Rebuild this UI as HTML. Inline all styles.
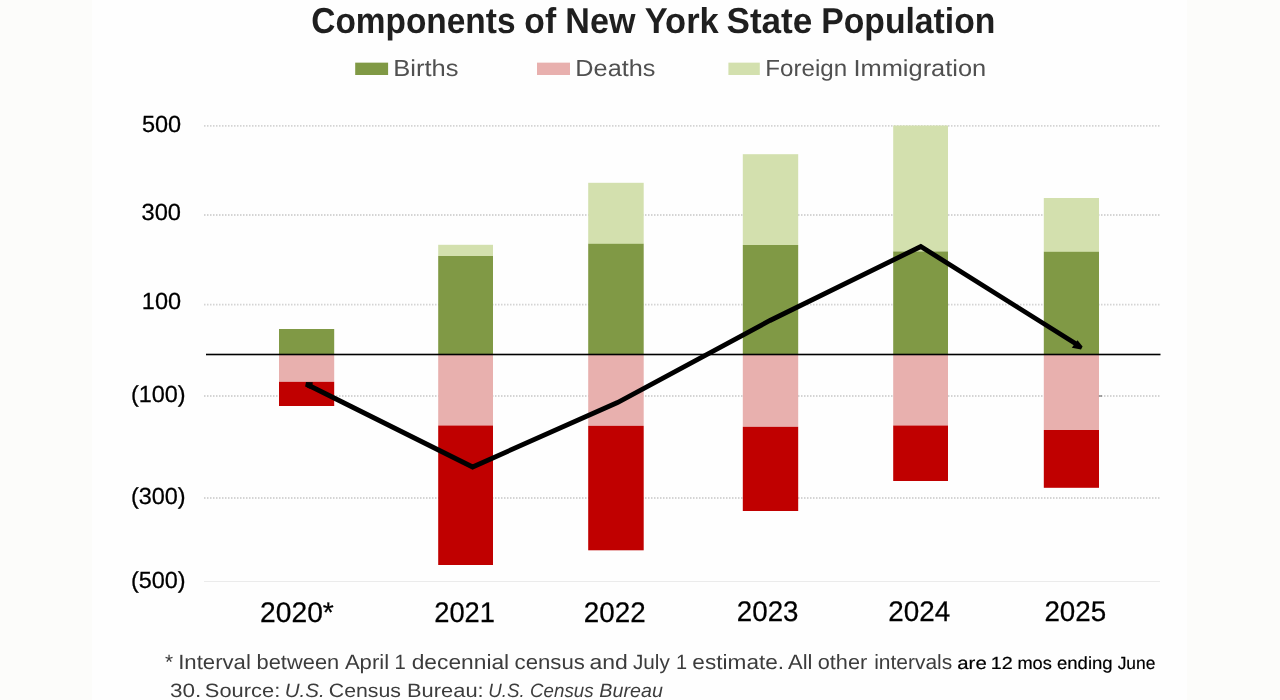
<!DOCTYPE html>
<html lang="en">
<head>
<meta charset="utf-8">
<title>Components of New York State Population</title>
<style>
  html, body { margin: 0; padding: 0; background: #fefefe; }
  body { width: 1280px; height: 700px; overflow: hidden; }
  svg { display: block; will-change: transform; }
  text { font-family: "Liberation Sans", sans-serif; text-rendering: geometricPrecision; }
</style>
</head>
<body>
<svg width="1280" height="700" viewBox="0 0 1280 700">
  <!-- background -->
  <rect x="0" y="0" width="1280" height="700" fill="#fefefe"/>
  <rect x="0" y="0" width="92" height="700" fill="#fcfcfa"/>
  <rect x="1187" y="0" width="93" height="700" fill="#fcfcfa"/>

  <!-- title -->

  <!-- legend -->
  <rect x="355.2" y="62.65" width="32.9" height="12.35" fill="#809945"/>
  <rect x="537" y="62.65" width="33" height="12.35" fill="#e8b0ae"/>
  <rect x="728.4" y="62.65" width="31.4" height="12.35" fill="#d3e0ae"/>

  <!-- gridlines -->
  <g stroke="#d4d4d4" stroke-width="1.8" stroke-dasharray="1.5 1.5" fill="none">
    <line x1="204" y1="125.9" x2="1160" y2="125.9"/>
    <line x1="204" y1="215" x2="1160" y2="215"/>
    <line x1="204" y1="304.7" x2="1160" y2="304.7"/>
    <line x1="204" y1="396" x2="1160" y2="396"/>
    <line x1="204" y1="498" x2="1160" y2="498"/>
  </g>
  <line x1="204" y1="581.5" x2="1160" y2="581.5" stroke="#ebebeb" stroke-width="1.2"/>

  <!-- bars -->
  <g id="bars">
    <!-- 2020 -->
    <rect x="279" y="329" width="55.2" height="25.5" fill="#809945"/>
    <rect x="279" y="354" width="55.2" height="27.8" fill="#e8b0ae"/>
    <rect x="279" y="381.8" width="55.2" height="24.2" fill="#c00000"/>
    <!-- 2021 -->
    <rect x="438.2" y="244.8" width="54.8" height="11.4" fill="#d3e0ae"/>
    <rect x="438.2" y="256" width="54.8" height="98.5" fill="#809945"/>
    <rect x="438.2" y="354" width="54.8" height="71.5" fill="#e8b0ae"/>
    <rect x="438.2" y="425.5" width="54.8" height="139.5" fill="#c00000"/>
    <!-- 2022 -->
    <rect x="588.2" y="182.8" width="55.5" height="61.2" fill="#d3e0ae"/>
    <rect x="588.2" y="243.8" width="55.5" height="110.5" fill="#809945"/>
    <rect x="588.2" y="354" width="55.5" height="71.8" fill="#e8b0ae"/>
    <rect x="588.2" y="425.8" width="55.5" height="124.5" fill="#c00000"/>
    <!-- 2023 -->
    <rect x="742.8" y="154.2" width="55.4" height="91" fill="#d3e0ae"/>
    <rect x="742.8" y="245" width="55.4" height="109.5" fill="#809945"/>
    <rect x="742.8" y="354" width="55.4" height="72.8" fill="#e8b0ae"/>
    <rect x="742.8" y="426.8" width="55.4" height="84.2" fill="#c00000"/>
    <!-- 2024 -->
    <rect x="893.2" y="125.5" width="54.8" height="126.2" fill="#d3e0ae"/>
    <rect x="893.2" y="251.5" width="54.8" height="103" fill="#809945"/>
    <rect x="893.2" y="354" width="54.8" height="71.5" fill="#e8b0ae"/>
    <rect x="893.2" y="425.5" width="54.8" height="55.5" fill="#c00000"/>
    <!-- 2025 -->
    <rect x="1043.8" y="198" width="55.2" height="54" fill="#d3e0ae"/>
    <rect x="1043.8" y="251.8" width="55.2" height="102.7" fill="#809945"/>
    <rect x="1043.8" y="354" width="55.2" height="76" fill="#e8b0ae"/>
    <rect x="1043.8" y="430" width="55.2" height="57.8" fill="#c00000"/>
  </g>

  <!-- zero line -->
  <rect x="206" y="353.7" width="954.5" height="1.6" fill="#000"/>
  <rect x="1098.8" y="395.2" width="3.2" height="1.6" fill="#777" opacity="0.8"/>

  <!-- net line -->
  <polyline points="308,385 472.6,467 617.5,402.5 770,320.5 920.8,246.5 1077,344.5" fill="none" stroke="#000" stroke-width="4.8" stroke-linejoin="miter"/>
  <polygon points="306,382 312.8,382.3 312.4,385.2 309.6,388.8 305.1,386.4" fill="#000"/>
  <polygon points="1077.5,340.2 1082.6,346.6 1081,349.6 1071.8,347.8" fill="#000"/>
  <!-- text words -->
  <text font-size="36" fill="#1f1f1f" font-weight="bold" y="32.8">
    <tspan x="311.27" textLength="204.21" lengthAdjust="spacingAndGlyphs">Components</tspan> 
    <tspan x="524.36" textLength="31.75" lengthAdjust="spacingAndGlyphs">of</tspan> 
    <tspan x="565.34" textLength="70.08" lengthAdjust="spacingAndGlyphs">New</tspan> 
    <tspan x="644.66" textLength="74.07" lengthAdjust="spacingAndGlyphs">York</tspan> 
    <tspan x="726.47" textLength="85.85" lengthAdjust="spacingAndGlyphs">State</tspan> 
    <tspan x="821.20" textLength="174.24" lengthAdjust="spacingAndGlyphs">Population</tspan>
  </text>
  <text font-size="23.2" fill="#505050"  y="76.0">
    <tspan x="393.38" textLength="65.16" lengthAdjust="spacingAndGlyphs">Births</tspan> 
    <tspan x="575.38" textLength="79.98" lengthAdjust="spacingAndGlyphs">Deaths</tspan> 
    <tspan x="765.32" textLength="81.88" lengthAdjust="spacingAndGlyphs">Foreign</tspan> 
    <tspan x="853.48" textLength="132.71" lengthAdjust="spacingAndGlyphs">Immigration</tspan>
  </text>
  <text font-size="20.6" fill="#3c3c3c"  y="669.0">
    <tspan x="165.05" textLength="8.08" lengthAdjust="spacingAndGlyphs">*</tspan> 
    <tspan x="178.19" textLength="72.70" lengthAdjust="spacingAndGlyphs">Interval</tspan> 
    <tspan x="256.57" textLength="82.65" lengthAdjust="spacingAndGlyphs">between</tspan> 
    <tspan x="344.92" textLength="44.13" lengthAdjust="spacingAndGlyphs">April</tspan> 
    <tspan x="394.52" textLength="11.29" lengthAdjust="spacingAndGlyphs">1</tspan> 
    <tspan x="411.69" textLength="97.47" lengthAdjust="spacingAndGlyphs">decennial</tspan> 
    <tspan x="514.56" textLength="70.27" lengthAdjust="spacingAndGlyphs">census</tspan> 
    <tspan x="589.50" textLength="38.37" lengthAdjust="spacingAndGlyphs">and</tspan> 
    <tspan x="632.90" textLength="36.89" lengthAdjust="spacingAndGlyphs">July</tspan> 
    <tspan x="676.00" textLength="11.11" lengthAdjust="spacingAndGlyphs">1</tspan> 
    <tspan x="692.38" textLength="91.73" lengthAdjust="spacingAndGlyphs">estimate.</tspan> 
    <tspan x="788.00" textLength="24.43" lengthAdjust="spacingAndGlyphs">All</tspan> 
    <tspan x="817.76" textLength="49.46" lengthAdjust="spacingAndGlyphs">other</tspan> 
    <tspan x="874.19" textLength="78.08" lengthAdjust="spacingAndGlyphs">intervals</tspan>
  </text>
  <text font-size="17.5" fill="#000" stroke="#000" stroke-width="0.2" y="668.7">
    <tspan x="957.27" textLength="29.45" lengthAdjust="spacingAndGlyphs">are</tspan> 
    <tspan x="990.78" textLength="21.95" lengthAdjust="spacingAndGlyphs">12</tspan> 
    <tspan x="1017.42" textLength="34.43" lengthAdjust="spacingAndGlyphs">mos</tspan> 
    <tspan x="1057.01" textLength="55.62" lengthAdjust="spacingAndGlyphs">ending</tspan> 
    <tspan x="1117.66" textLength="37.71" lengthAdjust="spacingAndGlyphs">June</tspan>
  </text>
  <text font-size="19.2" fill="#3c3c3c"  y="696.6">
    <tspan x="170.00" textLength="31.39" lengthAdjust="spacingAndGlyphs">30.</tspan> 
    <tspan x="204.87" textLength="75.42" lengthAdjust="spacingAndGlyphs">Source:</tspan> 
    <tspan x="284.68" textLength="39.93" lengthAdjust="spacingAndGlyphs" font-style="italic">U.S.</tspan> 
    <tspan x="328.75" textLength="72.21" lengthAdjust="spacingAndGlyphs">Census</tspan> 
    <tspan x="407.03" textLength="76.62" lengthAdjust="spacingAndGlyphs">Bureau:</tspan> 
    <tspan x="488.24" textLength="36.37" lengthAdjust="spacingAndGlyphs" font-style="italic">U.S.</tspan> 
    <tspan x="530.06" textLength="63.46" lengthAdjust="spacingAndGlyphs" font-style="italic">Census</tspan> 
    <tspan x="599.39" textLength="63.45" lengthAdjust="spacingAndGlyphs" font-style="italic">Bureau</tspan>
  </text>
  <text font-size="23.3" fill="#000" stroke="#000" stroke-width="0.25" y="131.6">
    <tspan x="141.90" textLength="39.26" lengthAdjust="spacingAndGlyphs">500</tspan>
  </text>
  <text font-size="23.3" fill="#000" stroke="#000" stroke-width="0.25" y="220.0">
    <tspan x="141.50" textLength="39.53" lengthAdjust="spacingAndGlyphs">300</tspan>
  </text>
  <text font-size="23.3" fill="#000" stroke="#000" stroke-width="0.25" y="308.9">
    <tspan x="141.80" textLength="39.25" lengthAdjust="spacingAndGlyphs">100</tspan>
  </text>
  <text font-size="23.3" fill="#000" stroke="#000" stroke-width="0.25" y="402.0">
    <tspan x="130.90" textLength="54.77" lengthAdjust="spacingAndGlyphs">(100)</tspan>
  </text>
  <text font-size="23.3" fill="#000" stroke="#000" stroke-width="0.25" y="504.0">
    <tspan x="130.90" textLength="54.77" lengthAdjust="spacingAndGlyphs">(300)</tspan>
  </text>
  <text font-size="23.3" fill="#000" stroke="#000" stroke-width="0.25" y="588.4">
    <tspan x="130.90" textLength="54.77" lengthAdjust="spacingAndGlyphs">(500)</tspan>
  </text>
  <text font-size="28.4" fill="#000" stroke="#000" stroke-width="0.25" y="621.9">
    <tspan x="260.10" textLength="73.75" lengthAdjust="spacingAndGlyphs">2020*</tspan>
  </text>
  <text font-size="28.4" fill="#000" stroke="#000" stroke-width="0.25" y="621.9">
    <tspan x="434.24" textLength="60.75" lengthAdjust="spacingAndGlyphs">2021</tspan>
  </text>
  <text font-size="28.4" fill="#000" stroke="#000" stroke-width="0.25" y="621.5">
    <tspan x="583.86" textLength="61.80" lengthAdjust="spacingAndGlyphs">2022</tspan>
  </text>
  <text font-size="28.4" fill="#000" stroke="#000" stroke-width="0.25" y="621.2">
    <tspan x="736.86" textLength="61.67" lengthAdjust="spacingAndGlyphs">2023</tspan>
  </text>
  <text font-size="28.4" fill="#000" stroke="#000" stroke-width="0.25" y="620.9">
    <tspan x="888.37" textLength="61.96" lengthAdjust="spacingAndGlyphs">2024</tspan>
  </text>
  <text font-size="28.4" fill="#000" stroke="#000" stroke-width="0.25" y="620.7">
    <tspan x="1044.39" textLength="61.80" lengthAdjust="spacingAndGlyphs">2025</tspan>
  </text>
</svg>
</body>
</html>
